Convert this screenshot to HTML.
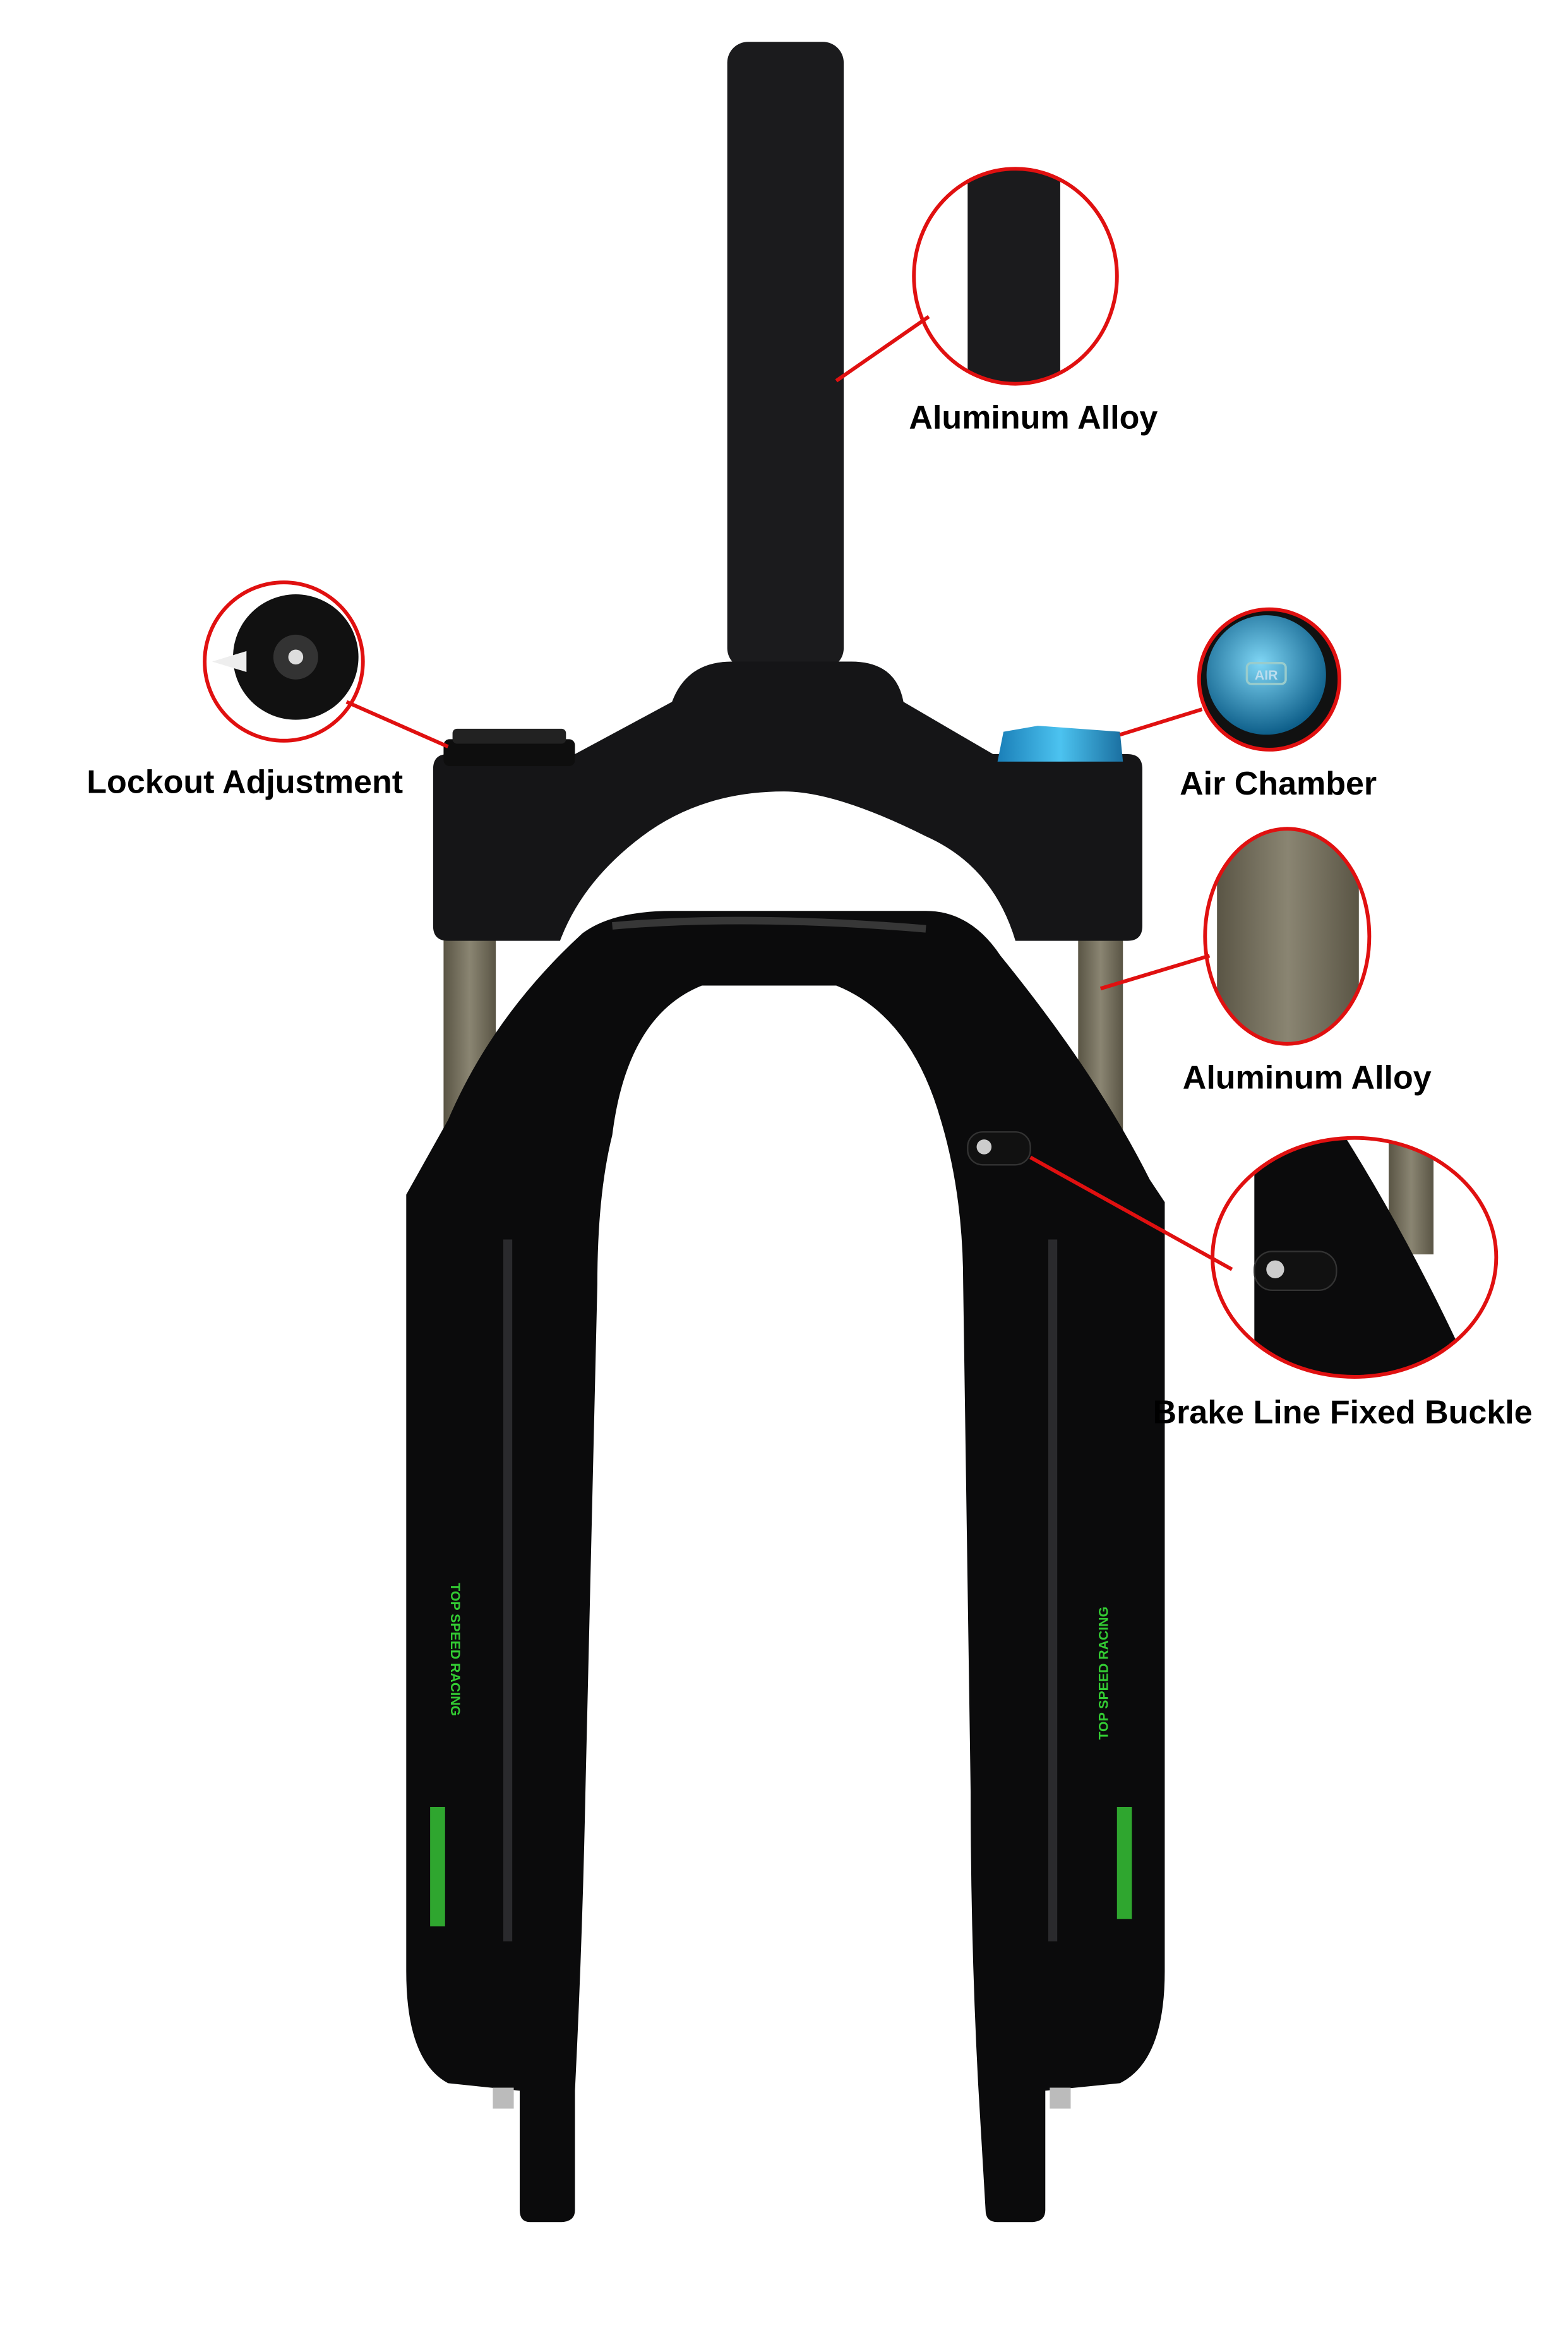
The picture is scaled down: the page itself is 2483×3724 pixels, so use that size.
<!DOCTYPE html>
<html><head><meta charset="utf-8"><style>
html,body{margin:0;padding:0;background:#fff}
svg{display:block}
text{font-family:"Liberation Sans",Arial,sans-serif;font-weight:bold;fill:#000}
</style></head><body>
<svg width="2483" height="3724" viewBox="0 0 1050 1575" xmlns="http://www.w3.org/2000/svg">
<defs>
<linearGradient id="stan" x1="0" x2="1"><stop offset="0" stop-color="#5a5545"/><stop offset="0.5" stop-color="#8a8572"/><stop offset="1" stop-color="#5a5545"/></linearGradient>
<linearGradient id="blue" x1="0" x2="1"><stop offset="0" stop-color="#1a7fb8"/><stop offset="0.5" stop-color="#4cc3f0"/><stop offset="1" stop-color="#1a6fa0"/></linearGradient>
<radialGradient id="airg" cx="0.45" cy="0.4" r="0.6"><stop offset="0" stop-color="#7fd6f5"/><stop offset="1" stop-color="#0e5f8a"/></radialGradient>
<clipPath id="c1"><ellipse cx="680" cy="185" rx="68" ry="72"/></clipPath>
<clipPath id="c4"><ellipse cx="862" cy="627" rx="55" ry="72"/></clipPath>
<clipPath id="c5"><ellipse cx="907" cy="842" rx="95" ry="80"/></clipPath>
</defs>
<!-- steerer -->
<rect x="487" y="28" width="78" height="420" rx="14" fill="#1b1b1d"/>
<!-- stanchions -->
<rect x="297" y="620" width="35" height="140" fill="url(#stan)"/>
<rect x="722" y="620" width="30" height="140" fill="url(#stan)"/>
<!-- crown -->
<path d="M290 515 Q290 505 300 505 L385 505 L450 470 Q460 443 490 443 L570 443 Q600 443 605 470 L665 505 L755 505 Q765 505 765 515 L765 620 Q765 630 755 630 L680 630 Q665 580 620 560 Q560 530 525 530 Q470 530 430 560 Q390 590 375 630 L300 630 Q290 630 290 620 Z" fill="#151517"/>
<!-- caps -->
<rect x="297" y="495" width="88" height="18" rx="4" fill="#0e0e0e"/>
<rect x="303" y="488" width="76" height="10" rx="3" fill="#222"/>
<path d="M668 510 L672 490 L695 486 L750 490 L752 510 Z" fill="url(#blue)"/>
<!-- lower arch & legs -->
<path d="M272 800 L300 750 Q330 680 390 625 Q410 610 450 610 L620 610 Q650 610 670 640 Q735 720 770 790 L780 805 L780 1320 Q780 1380 750 1395 L700 1400 L700 1480 Q700 1488 690 1488 L668 1488 Q660 1488 660 1480 L655 1395 Q650 1300 650 1200 L645 860 Q645 800 630 750 Q610 680 560 660 L470 660 Q420 680 410 760 Q400 800 400 860 L392 1200 Q390 1300 385 1400 L385 1480 Q385 1488 375 1488 L355 1488 Q348 1488 348 1480 L348 1400 L300 1395 Q272 1380 272 1320 Z" fill="#0b0b0c"/>
<path d="M410 620 Q500 612 620 622" stroke="#555" stroke-width="5" fill="none" opacity="0.6"/>
<path d="M340 830 L340 1300" stroke="#2a2a2d" stroke-width="6"/>
<path d="M705 830 L705 1300" stroke="#2a2a2d" stroke-width="6"/>
<!-- green decals -->
<rect x="288" y="1210" width="10" height="80" fill="#2fa62f"/>
<rect x="748" y="1210" width="10" height="75" fill="#2fa62f"/>
<text x="0" y="0" transform="translate(302,1060) rotate(90)" font-size="9" style="fill:#3c3">TOP SPEED RACING</text>
<text x="0" y="0" transform="translate(742,1165) rotate(-90)" font-size="9" style="fill:#3c3">TOP SPEED RACING</text>
<!-- brake buckle -->
<rect x="648" y="758" width="42" height="22" rx="10" fill="#111" stroke="#333"/>
<circle cx="659" cy="768" r="5" fill="#ccc"/>
<!-- bolts -->
<rect x="330" y="1398" width="14" height="14" fill="#bbb"/>
<rect x="703" y="1398" width="14" height="14" fill="#bbb"/>

<!-- callout 1 -->
<g clip-path="url(#c1)"><rect x="600" y="100" width="160" height="170" fill="#fff"/><rect x="648" y="105" width="62" height="160" fill="#1b1b1d"/></g>
<ellipse cx="680" cy="185" rx="68" ry="72" fill="none" stroke="#e01010" stroke-width="2.5"/>
<line x1="622" y1="212" x2="560" y2="255" stroke="#e01010" stroke-width="2.5"/>
<text x="692" y="287" font-size="22" text-anchor="middle">Aluminum Alloy</text>

<!-- lockout -->
<circle cx="190" cy="443" r="53" fill="#fff" stroke="#e01010" stroke-width="2.5"/>
<circle cx="198" cy="440" r="42" fill="#111"/>
<circle cx="198" cy="440" r="15" fill="#333"/>
<circle cx="198" cy="440" r="5" fill="#ddd"/>
<path d="M142 443 L165 436 L165 450 Z" fill="#eee"/>
<line x1="232" y1="470" x2="300" y2="500" stroke="#e01010" stroke-width="2.5"/>
<text x="58" y="531" font-size="22">Lockout Adjustment</text>

<!-- air -->
<circle cx="850" cy="455" r="47" fill="#111" stroke="#e01010" stroke-width="2.5"/>
<circle cx="848" cy="452" r="40" fill="url(#airg)"/>
<rect x="835" y="444" width="26" height="14" rx="3" fill="none" stroke="#9cc" stroke-width="1.5"/>
<text x="848" y="455" font-size="9" text-anchor="middle" style="fill:#bde">AIR</text>
<line x1="805" y1="475" x2="750" y2="492" stroke="#e01010" stroke-width="2.5"/>
<text x="790" y="532" font-size="22">Air Chamber</text>

<!-- alu 2 -->
<g clip-path="url(#c4)"><rect x="800" y="550" width="130" height="160" fill="#fff"/><rect x="815" y="550" width="95" height="160" fill="url(#stan)"/></g>
<ellipse cx="862" cy="627" rx="55" ry="72" fill="none" stroke="#e01010" stroke-width="2.5"/>
<line x1="810" y1="640" x2="737" y2="662" stroke="#e01010" stroke-width="2.5"/>
<text x="792" y="729" font-size="22">Aluminum Alloy</text>

<!-- brake -->
<g clip-path="url(#c5)"><rect x="800" y="760" width="210" height="170" fill="#fff"/>
<rect x="930" y="760" width="30" height="80" fill="url(#stan)"/>
<path d="M840 760 L900 760 Q950 840 990 930 L840 930 Z" fill="#0b0b0c"/>
<rect x="840" y="838" width="55" height="26" rx="12" fill="#111" stroke="#333"/>
<circle cx="854" cy="850" r="6" fill="#ccc"/></g>
<ellipse cx="907" cy="842" rx="95" ry="80" fill="none" stroke="#e01010" stroke-width="2.5"/>
<line x1="690" y1="775" x2="825" y2="850" stroke="#e01010" stroke-width="2.5"/>
<text x="772" y="953" font-size="22">Brake Line Fixed Buckle</text>
</svg>
</body></html>
